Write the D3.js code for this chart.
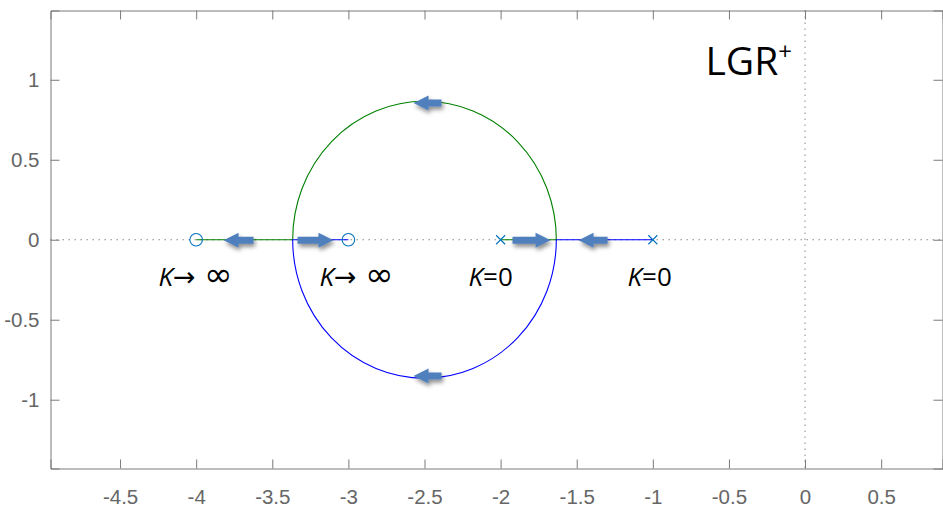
<!DOCTYPE html>
<html>
<head>
<meta charset="utf-8">
<script src="https://cdn.jsdelivr.net/npm/d3@7"></script>
<style>
  html, body { margin: 0; padding: 0; background: #fff; }
  svg { display: block; }
</style>
</head>
<body>
<svg id="chart" width="943" height="507"></svg>
<script>
// Open-loop poles and zeros of the root locus
const poles = [-2, -1];
const zeros = [-4, -3];
// Real-axis breakaway / break-in points (the complex branches form a circle between them)
const breakPoints = [-1.634, -3.366];

// Axis ticks
const xTicks = [-4.5, -4, -3.5, -3, -2.5, -2, -1.5, -1, -0.5, 0, 0.5];
const yTicks = [-1, -0.5, 0, 0.5, 1];
const xTickLabels = ["-4.5", "-4", "-3.5", "-3", "-2.5", "-2", "-1.5", "-1", "-0.5", "0", "0.5"];
const yTickLabels = ["-1", "-0.5", "0", "0.5", "1"];

// Direction arrows along the locus: [from x, to x, y] (the head is at "to")
const arrows = [
  [-3.623, -3.820, 0],
  [-3.334, -3.098, 0],
  [-1.922, -1.672, 0],
  [-1.297, -1.488, 0],
  [-2.388, -2.572, 0.858],
  [-2.388, -2.572, -0.848]
];

// Gain annotations: [x, y, relation, value]
const gainLabels = [
  [-4.248, -0.29, "\u2192", "\u221E"],
  [-3.190, -0.29, "\u2192", "\u221E"],
  [-2.211, -0.29, "=", "0"],
  [-1.166, -0.29, "=", "0"]
];

const svg = d3.select("#chart");
const mLeft = 50.5, mRight = 942.5, mTop = 10.5, mBottom = 468.5;

const x = d3.scaleLinear().domain([-4.957, 0.903]).range([mLeft, mRight]);
const y = d3.scaleLinear().domain([-1.43, 1.433]).range([mBottom, mTop]);

const axisColor = "#7a7a7a";
const labelColor = "#666666";

// Drop shadow for the arrows
const defs = svg.append("defs");
const f = defs.append("filter").attr("id", "shadow")
  .attr("x", "-30%").attr("y", "-60%").attr("width", "160%").attr("height", "260%");
f.append("feDropShadow").attr("dx", 1.5).attr("dy", 3).attr("stdDeviation", 2.2)
  .attr("flood-color", "#000").attr("flood-opacity", 0.45);

// Dotted zero lines
svg.append("line")
  .attr("x1", mLeft).attr("x2", mRight).attr("y1", y(0)).attr("y2", y(0))
  .attr("stroke", "#8a8a8a").attr("stroke-width", 1).attr("stroke-dasharray", "1.5,4.5");
svg.append("line")
  .attr("x1", x(0)).attr("x2", x(0)).attr("y1", mTop).attr("y2", mBottom)
  .attr("stroke", "#8a8a8a").attr("stroke-width", 1).attr("stroke-dasharray", "1.5,4.5");

// Axes (ticks inward, mirrored on the top and right edges)
const fontTicks = "'Liberation Sans', Arial, sans-serif";
const xAxis = d3.axisBottom(x).tickValues(xTicks).tickSize(-9).tickPadding(21)
  .tickFormat((d, i) => xTickLabels[i]);
const yAxis = d3.axisLeft(y).tickValues(yTicks).tickSize(-9).tickPadding(11)
  .tickFormat((d, i) => yTickLabels[i]);

function styleAxis(g) {
  g.select(".domain").attr("stroke", axisColor);
  g.selectAll(".tick line").attr("stroke", axisColor);
  g.selectAll(".tick text").attr("fill", labelColor)
    .style("font-family", fontTicks).style("font-size", "20.5px");
}
svg.append("g").attr("transform", `translate(0,${mBottom})`).call(xAxis).call(styleAxis);
svg.append("g").attr("transform", `translate(${mLeft},0)`).call(yAxis).call(styleAxis);
svg.append("g").attr("transform", `translate(0,${mTop})`)
  .call(d3.axisTop(x).tickValues(xTicks).tickSize(-9).tickFormat(""))
  .call(styleAxis);
svg.append("g").attr("transform", `translate(${mRight},0)`)
  .call(d3.axisRight(y).tickValues(yTicks).tickSize(-9).tickFormat(""))
  .call(styleAxis);

// Locus branches: real-axis segment, half circle, real-axis segment
const [bAway, bIn] = breakPoints;
const center = (bAway + bIn) / 2;
const radius = (bAway - bIn) / 2;
const rx = Math.abs(x(center + radius) - x(center));
const ry = Math.abs(y(radius) - y(0));

function branchPath(startX, endX, upper) {
  return `M${x(startX)},${y(0)} L${x(bAway)},${y(0)} ` +
    `A${rx},${ry} 0 0 ${upper ? 0 : 1} ${x(bIn)},${y(0)} ` +
    `L${x(endX)},${y(0)}`;
}
svg.append("path").attr("d", branchPath(poles[0], zeros[0], true))
  .attr("fill", "none").attr("stroke", "#008000").attr("stroke-width", 1.1);
svg.append("path").attr("d", branchPath(poles[1], zeros[1], false))
  .attr("fill", "none").attr("stroke", "#0000ff").attr("stroke-width", 1.1);

// Poles (x) and zeros (o)
const markColor = "#0072bd";
svg.selectAll(".pole").data(poles).enter().append("path")
  .attr("class", "pole")
  .attr("d", d => {
    const cx = x(d), cy = y(0), s = 4.5;
    return `M${cx - s},${cy - s}L${cx + s},${cy + s}M${cx - s},${cy + s}L${cx + s},${cy - s}`;
  })
  .attr("stroke", markColor).attr("stroke-width", 1.1).attr("fill", "none");
svg.selectAll(".zero").data(zeros).enter().append("circle")
  .attr("class", "zero")
  .attr("cx", d => x(d)).attr("cy", y(0)).attr("r", 6.3)
  .attr("stroke", markColor).attr("stroke-width", 1.1).attr("fill", "none");

// Block arrows showing the direction of increasing K
const arrowColor = "#4f7fbd";
svg.selectAll(".arrow").data(arrows).enter().append("path")
  .attr("class", "arrow")
  .attr("d", d => {
    const x0 = x(d[0]), x1 = x(d[1]), cy = y(d[2]) + 0.5;
    const dir = Math.sign(x1 - x0);
    const headLen = 15, headHalf = 7.5, shaftHalf = 3.5;
    const xh = x1 - dir * headLen;
    return `M${x0},${cy - shaftHalf}L${xh},${cy - shaftHalf}L${xh},${cy - headHalf}` +
      `L${x1},${cy}L${xh},${cy + headHalf}L${xh},${cy + shaftHalf}L${x0},${cy + shaftHalf}Z`;
  })
  .attr("fill", arrowColor)
  .attr("filter", "url(#shadow)");

// Gain annotations
const fontText = "'Open Sans', 'Noto Sans', sans-serif";
const fontSym = "'DejaVu Sans', sans-serif";
const gl = svg.selectAll(".gain").data(gainLabels).enter().append("text")
  .attr("class", "gain")
  .attr("x", d => x(d[0])).attr("y", d => y(d[1]))
  .style("font-family", fontText).style("font-size", "26px").attr("fill", "#000");
gl.append("tspan").style("font-style", "italic").text("K");
gl.append("tspan")
  .style("font-family", d => d[2] === "=" ? fontText : fontSym)
  .style("font-size", d => d[2] === "=" ? "26px" : "27px")
  .text(d => d[2] === "=" ? "=" : d[2] + " ");
gl.append("tspan")
  .style("font-family", d => d[3] === "0" ? fontText : fontSym)
  .style("font-size", d => d[3] === "0" ? "26px" : "34px")
  .text(d => d[3]);

// Plot tag
const tag = svg.append("text")
  .attr("x", x(-0.654)).attr("y", y(1.027))
  .style("font-family", fontText).style("font-size", "39px").attr("fill", "#000");
tag.append("tspan").text("LGR");
tag.append("tspan").attr("dy", -15).style("font-size", "24px").text("+");
</script>
</body>
</html>
